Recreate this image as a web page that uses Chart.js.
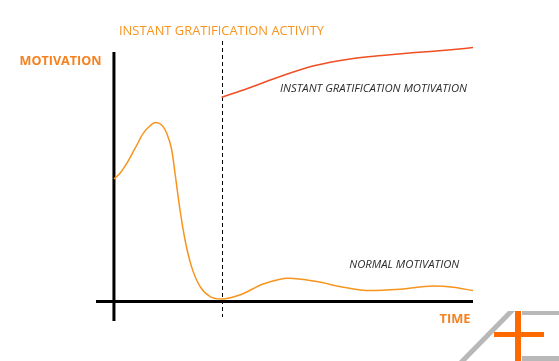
<!DOCTYPE html>
<html lang="en">
<head>
  <meta charset="UTF-8">
  <title>Instant Gratification Motivation</title>
  <script src="https://cdn.jsdelivr.net/npm/chart.js"></script>
  <style>
    body { margin: 0; background: #fff; }
    #wrap { width: 559px; height: 361px; }
  </style>
</head>
<body>
  <div id="wrap"><canvas id="chart" width="559" height="361"></canvas></div>

  <script>
    // values (time and motivation in arbitrary units)
    const normalTime = [0, 1.7, 3.6, 5.9, 8.2, 10, 11.6, 13.3, 14.7, 16.1, 17, 18.4, 19.8, 21.6, 24, 26.8, 30, 35, 41.6, 48.6, 56.5, 63.9, 71.3, 79.7, 88.9, 94.5, 100];
    const normalValues = [61, 63.9, 68.9, 76.4, 83.9, 87.5, 89.2, 88, 83.9, 75.5, 64, 45.5, 30.5, 17.2, 7.2, 2.2, 1, 3, 8.5, 11.4, 9.7, 6.9, 5.2, 5.9, 7.5, 6.9, 5.2];
    const instantTime = [30, 37.4, 46.7, 56, 65.3, 74.6, 83.9, 93.1, 100];
    const instantValues = [101.9, 106.4, 112.5, 117.7, 120.9, 122.7, 124.2, 125.5, 126.7];
    const activityTime = 30;

    const orange = '#f7941d';
    const red = '#f04e23';

    function toPoints(xs, ys) {
      return xs.map((x, i) => ({ x: x, y: ys[i] }));
    }

    // draws text squeezed/stretched to a given width
    function fitText(ctx, txt, x, y, w) {
      const m = ctx.measureText(txt).width;
      ctx.save();
      ctx.translate(x, y);
      ctx.scale(w / m, 1);
      ctx.fillText(txt, 0, 0);
      ctx.restore();
    }

    const axesPlugin = {
      id: 'axes',
      beforeDatasetsDraw(chart) {
        const ctx = chart.ctx;
        const xs = chart.scales.x, ys = chart.scales.y;
        const x0 = xs.getPixelForValue(0);
        const y0 = ys.getPixelForValue(0) + 0.5;
        const xa = xs.getPixelForValue(activityTime);
        ctx.save();
        ctx.strokeStyle = '#000';
        ctx.lineWidth = 3;
        ctx.beginPath();
        ctx.moveTo(x0, 52);
        ctx.lineTo(x0, chart.chartArea.bottom);
        ctx.moveTo(chart.chartArea.left, y0);
        ctx.lineTo(chart.chartArea.right, y0);
        ctx.stroke();

        ctx.lineWidth = 1;
        ctx.setLineDash([4, 3]);
        ctx.beginPath();
        ctx.moveTo(Math.round(xa) + 0.5, chart.chartArea.top);
        ctx.lineTo(Math.round(xa) + 0.5, 317);
        ctx.stroke();
        ctx.restore();
      },
      afterDatasetsDraw(chart) {
        const ctx = chart.ctx;
        ctx.save();
        ctx.textBaseline = 'alphabetic';

        ctx.fillStyle = orange;
        ctx.font = '13px "Open Sans"';
        fitText(ctx, 'INSTANT GRATIFICATION ACTIVITY', 119, 35, 205);

        ctx.fillStyle = '#f58220';
        ctx.font = 'bold 13px "Open Sans"';
        fitText(ctx, 'MOTIVATION', 19.5, 65, 82);
        ctx.font = 'bold 12px "Open Sans"';
        fitText(ctx, 'TIME', 439.5, 322.5, 31);

        ctx.fillStyle = '#2b2b2b';
        ctx.font = 'italic 11px "Open Sans"';
        fitText(ctx, 'INSTANT GRATIFICATION MOTIVATION', 280, 92.3, 187);
        fitText(ctx, 'NORMAL MOTIVATION', 349.3, 267.7, 110);

        // corner logo
        ctx.fillStyle = '#b8b8b8';
        ctx.beginPath();
        ctx.moveTo(508, 311);
        ctx.lineTo(515, 311);
        ctx.lineTo(466, 361);
        ctx.lineTo(459, 361);
        ctx.closePath();
        ctx.fill();
        ctx.fillRect(522, 311, 37, 4);
        ctx.fillRect(522, 356, 37, 5);
        ctx.fillStyle = '#ff6a00';
        ctx.fillRect(515, 311, 6, 50);
        ctx.fillRect(494, 332, 50, 5);
        ctx.restore();
      }
    };

    new Chart(document.getElementById('chart').getContext('2d'), {
      type: 'line',
      data: {
        datasets: [{
          label: 'Normal motivation',
          data: toPoints(normalTime, normalValues),
          borderColor: orange,
          borderWidth: 1.5,
          cubicInterpolationMode: 'monotone',
          pointRadius: 0,
          fill: false
        }, {
          label: 'Instant gratification motivation',
          data: toPoints(instantTime, instantValues),
          borderColor: red,
          borderWidth: 1.5,
          cubicInterpolationMode: 'monotone',
          pointRadius: 0,
          fill: false
        }]
      },
      options: {
        responsive: false,
        animation: false,
        layout: { padding: { left: 96, right: 86, top: 41, bottom: 40 } },
        scales: {
          x: { type: 'linear', min: -5, max: 100, display: false },
          y: { min: -10, max: 130, display: false }
        },
        plugins: {
          legend: { display: false },
          tooltip: { enabled: false }
        }
      },
      plugins: [axesPlugin]
    });
  </script>
</body>
</html>
